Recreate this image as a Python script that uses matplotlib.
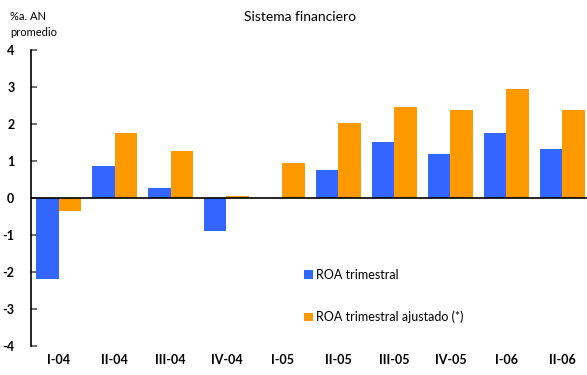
import numpy as np
import matplotlib.pyplot as plt

plt.rcParams['font.family'] = ['Lato', 'DejaVu Sans']
plt.rcParams['axes.unicode_minus'] = False

trimestres = ['I-04', 'II-04', 'III-04', 'IV-04', 'I-05',
              'II-05', 'III-05', 'IV-05', 'I-06', 'II-06']
roa = [-2.18, 0.87, 0.28, -0.90, 0.0, 0.76, 1.51, 1.19, 1.76, 1.32]
roa_ajustado = [-0.36, 1.76, 1.28, 0.06, 0.95, 2.03, 2.46, 2.38, 2.95, 2.38]

azul = '#3366FF'
naranja = '#FF9900'


def main():
    fig = plt.figure(figsize=(5.87, 3.75), dpi=100)
    ax = fig.add_axes([0.053, 0.077, 0.947, 0.790])

    x = np.arange(len(trimestres))
    w = 0.40
    ax.bar(x - w/2, roa, w, color=azul, label='ROA trimestral')
    ax.bar(x + w/2, roa_ajustado, w, color=naranja,
           label='ROA trimestral ajustado (*)')

    # linea del cero por encima de las barras
    ax.axhline(0, color='black', lw=1.2, zorder=3)

    ax.set_xlim(-0.49, 9.44)
    ax.set_ylim(-4, 4)
    ax.set_yticks(range(-4, 5))
    ax.set_xticks(x)
    ax.set_xticklabels(trimestres, fontsize=9, fontweight='bold')
    ax.tick_params(axis='x', length=0, pad=6)
    ax.tick_params(axis='y', direction='in', length=4, width=1.2,
                   color='#555555', labelsize=9, pad=12)
    for t in ax.get_yticklabels():
        t.set_fontweight('bold')

    for s in ['top', 'right', 'bottom']:
        ax.spines[s].set_visible(False)
    ax.spines['left'].set_linewidth(1.2)

    fig.text(0.511, 0.955, 'Sistema financiero', ha='center', va='center',
             fontsize=10)
    fig.text(0.017, 0.955, '%a. AN', ha='left', va='center', fontsize=8)
    fig.text(0.017, 0.912, 'promedio', ha='left', va='center', fontsize=8)

    ax.legend(loc='upper left', bbox_to_anchor=(0.507, 0.300),
              bbox_transform=fig.transFigure, frameon=False,
              fontsize=9, handlelength=0.7, handleheight=0.7,
              handletextpad=0.3, labelspacing=2.4, borderpad=0)

    fig.savefig('out.png', dpi=100)


if __name__ == "__main__":
    main()
